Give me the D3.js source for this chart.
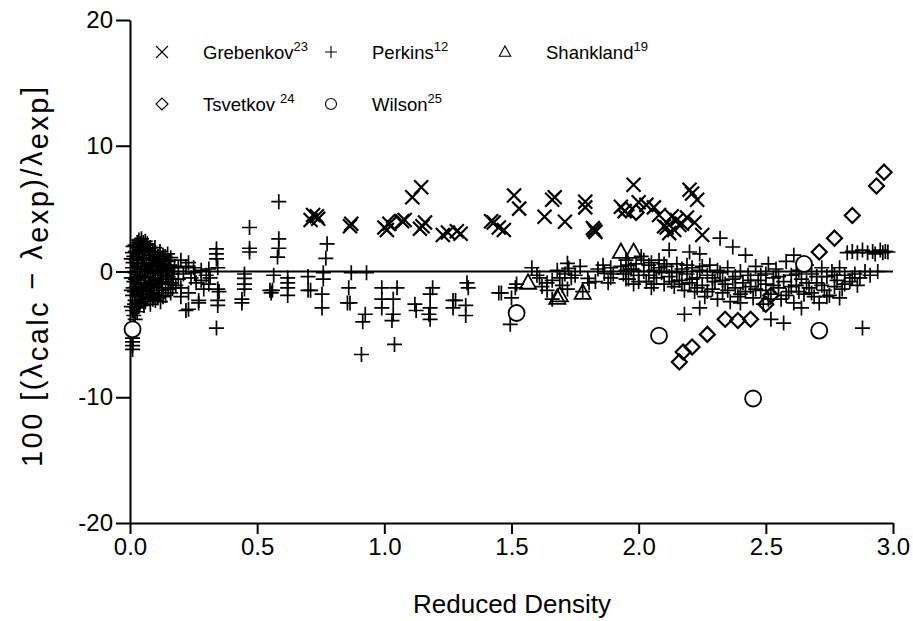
<!DOCTYPE html>
<html>
<head>
<meta charset="utf-8">
<script src="https://cdn.jsdelivr.net/npm/d3@7"></script>
<style>
  body { margin: 0; background: #fff; }
  text { font-family: "Liberation Sans", Arial, Helvetica, sans-serif; fill: #000; }
</style>
</head>
<body>
<svg width="913" height="621"></svg>
<script>
// data: [reduced density, 100*(calc-exp)/exp]
var grebenkov = [[0.71,4.1],[0.72,4.5],[0.735,4.4],[0.74,4.2],[0.865,3.6],[0.87,3.8],[1.0,3.5],[1.01,3.3],
  [1.02,3.8],[1.07,4.0],[1.08,4.1],[1.11,5.9],[1.145,6.7],[1.14,3.4],[1.15,3.6],[1.16,3.9],[1.23,2.9],
  [1.25,3.1],[1.285,3.2],[1.30,3.0],[1.42,4.0],[1.43,3.9],[1.45,3.5],[1.47,3.3],[1.51,6.05],[1.53,5.0],
  [1.63,4.35],[1.66,5.7],[1.67,5.9],[1.71,3.95],[1.79,5.55],[1.79,5.1],[1.82,3.45],[1.83,3.15],[1.825,3.3],
  [1.93,5.15],[1.945,4.8],[1.98,6.9],[2.0,5.5],[2.03,5.3],[2.06,5.1],[2.08,4.5],[2.1,3.6],[2.11,3.5],
  [2.12,3.05],[2.13,4.4],[2.15,4.1],[2.17,3.8],[2.2,6.5],[2.21,6.2],[2.23,5.7],[2.19,4.3],[2.22,3.9],
  [2.25,2.9],[2.14,3.3],[2.16,3.7]];

var perkins = [
  // dense group at low density
  [0.02,2.1],[0.03,1.9],[0.04,2.2],[0.05,2.0],[0.06,2.1],[0.07,1.8],[0.08,1.9],[0.09,1.6],[0.1,1.5],
  [0.11,1.2],[0.12,1.0],[0.13,1.3],[0.14,0.9],[0.15,0.8],[0.16,1.1],[0.035,2.5],[0.06,2.4],[0.045,2.6],
  [0.015,1.2],[0.025,0.9],[0.035,1.4],[0.045,0.6],[0.055,1.1],[0.065,0.7],[0.075,1.3],[0.085,0.5],
  [0.095,0.9],[0.105,0.4],[0.115,0.6],[0.125,0.2],[0.135,0.5],[0.145,0.1],[0.155,0.3],[0.165,-0.2],
  [0.175,0.4],[0.01,0.3],[0.02,-0.1],[0.03,0.4],[0.04,-0.3],[0.05,0.2],[0.06,-0.4],[0.07,0.1],[0.08,-0.2],
  [0.09,0.3],[0.1,-0.5],[0.11,-0.1],[0.12,-0.6],[0.13,-0.3],[0.14,-0.8],[0.15,-0.4],[0.16,-0.9],
  [0.17,-0.6],[0.18,-1.1],[0.015,-0.8],[0.025,-1.2],[0.035,-0.7],[0.045,-1.4],[0.055,-1.0],[0.065,-1.6],
  [0.075,-1.1],[0.085,-1.5],[0.095,-1.2],[0.105,-1.7],[0.115,-1.3],[0.125,-1.5],[0.14,-1.9],[0.15,-1.4],
  [0.01,-1.9],[0.02,-2.3],[0.03,-1.8],[0.04,-2.5],[0.05,-2.0],[0.06,-2.4],[0.07,-2.1],[0.08,-2.6],
  [0.09,-2.2],[0.12,-2.4],[0.005,-2.8],[0.01,-3.1],[0.015,-3.5],[0.02,-3.8],[0.025,-2.9],[0.005,1.0],
  [0.005,-0.5],[0.005,-1.5],[0.01,1.5],[0.01,-5.3],[0.01,-5.6],[0.01,-5.9],[0.01,-6.2],
  [0.012,2.0],[0.022,1.6],[0.028,2.3],[0.038,1.7],[0.048,1.5],[0.052,2.3],[0.058,1.7],[0.068,2.2],
  [0.078,1.6],[0.088,1.3],[0.098,1.9],[0.108,1.0],[0.118,1.6],[0.128,0.8],[0.138,1.2],[0.148,1.4],
  [0.012,0.7],[0.018,0.0],[0.028,-0.4],[0.032,0.9],[0.042,0.2],[0.048,1.0],[0.058,0.4],[0.062,-0.9],
  [0.072,-0.5],[0.078,0.6],[0.088,-0.8],[0.092,-0.1],[0.102,0.7],[0.108,-1.0],[0.118,0.1],[0.128,-0.9],
  [0.132,0.1],[0.142,-0.3],[0.152,-1.0],[0.158,0.5],[0.168,-1.3],[0.172,0.0],[0.012,-1.3],[0.018,-1.6],
  [0.022,-0.6],[0.032,-1.4],[0.038,-2.0],[0.042,-0.9],[0.052,-1.6],[0.062,-1.3],[0.068,-2.0],
  [0.078,-1.8],[0.082,-1.2],[0.092,-1.9],[0.098,-0.7],[0.11,-2.1],[0.13,-2.0],[0.16,-1.7],[0.018,-2.6],
  [0.028,-3.2],[0.035,-2.8],[0.045,-2.2],[0.055,-2.7],[0.1,-2.3],
  // 0.2 - 1.95
  [0.2,0.9],[0.23,0.7],[0.2,-1.3],[0.23,-1.7],[0.23,-3.0],[0.22,-3.1],[0.27,-2.3],[0.27,-2.5],[0.24,-0.5],
  [0.255,-0.1],[0.28,-0.7],[0.29,-1.4],[0.31,-1.0],[0.315,-0.5],[0.31,0.2],[0.34,1.8],[0.34,1.4],
  [0.34,1.0],[0.345,0.3],[0.345,-1.4],[0.35,-1.6],[0.345,-2.3],[0.345,-2.7],[0.34,-4.5],[0.19,0.3],
  [0.21,-0.2],[0.25,0.3],[0.26,-0.9],[0.3,-0.3],[0.28,0.1],[0.19,-0.6],[0.22,0.4],[0.2,-2.0],
  [0.47,3.5],[0.47,1.85],[0.47,1.55],[0.45,-0.2],[0.45,-0.55],[0.45,-1.0],[0.45,-1.4],[0.44,-2.2],[0.44,-2.5],
  [0.585,5.55],[0.585,2.6],[0.585,1.85],[0.58,1.15],[0.565,-0.3],[0.56,-1.5],[0.55,-1.5],[0.555,-1.7],
  [0.62,-0.5],[0.62,-0.9],[0.62,-1.3],[0.62,-1.9],[0.70,-0.4],[0.70,-1.5],[0.71,-1.5],[0.775,2.2],
  [0.77,1.05],[0.76,-0.1],[0.76,-0.6],[0.755,-1.8],[0.755,-2.9],[0.87,-0.1],[0.86,-1.3],[0.855,-2.5],
  [0.865,-2.5],[0.93,-0.1],[0.925,-3.4],[0.915,-4.0],[0.91,-6.6],[0.99,-1.3],[0.99,-2.2],[0.99,-2.9],
  [1.05,-1.3],[1.035,-2.2],[1.035,-3.4],[1.03,-3.9],[1.04,-5.8],[1.12,-2.6],[1.125,-3.1],[1.19,-1.3],
  [1.18,-1.8],[1.18,-2.9],[1.175,-3.4],[1.18,-3.8],[1.27,-2.3],[1.28,-2.3],[1.27,-2.9],[1.32,-2.7],
  [1.32,-3.5],[1.325,-0.9],[1.33,-1.3],[1.45,-1.7],[1.46,-1.7],[1.50,-2.1],[1.515,-1.3],[1.52,-1.0],
  [1.495,-4.2],[1.58,0.3],[1.60,-0.3],[1.61,-0.5],[1.64,-0.9],[1.64,-1.5],[1.66,-2.2],[1.68,0.1],
  [1.69,-0.5],[1.70,-1.1],[1.72,0.65],[1.725,0.25],[1.735,-0.5],[1.72,-1.4],[1.75,-0.3],[1.77,0.4],
  [1.78,-1.6],[1.80,-0.55],[1.805,-0.9],[1.83,-0.8],[1.84,0.2],[1.86,0.5],[1.865,-0.15],[1.88,-0.9],
  [1.89,-0.5],[1.90,-0.2],[1.89,0.3],[1.95,0.1],[1.95,-0.6],[1.62,-1.2],[1.66,-0.7],[1.71,-0.2],
  // band beyond 1.9
  [1.93,0.4],[1.94,-0.2],[1.95,0.9],[1.96,-0.6],[1.97,0.2],[1.98,-1.0],[1.99,0.6],[2.0,-0.3],[2.01,1.2],
  [2.02,0.0],[2.03,-0.8],[2.04,0.5],[2.05,-1.3],[2.05,0.7],[2.06,0.1],[2.07,-0.5],[2.08,0.9],[2.09,-0.1],
  [2.1,-1.0],[2.11,0.4],[2.12,1.7],[2.12,-0.4],[2.13,0.0],[2.14,-1.2],[2.15,0.6],[2.16,-0.7],[2.17,0.2],
  [2.18,-1.5],[2.18,-3.4],[2.19,-0.2],[2.2,1.55],[2.2,-0.9],[2.21,0.3],[2.22,-1.6],[2.23,-0.5],[2.24,1.4],
  [2.24,0.1],[2.24,-2.9],[2.25,-1.1],[2.26,-2.0],[2.27,-0.3],[2.28,0.5],[2.29,-1.4],[2.3,-0.8],[2.31,-2.2],
  [2.32,2.65],[2.32,-0.1],[2.33,-1.7],[2.34,-1.0],[2.35,0.3],[2.36,-2.4],[2.37,1.95],[2.37,-0.6],
  [2.38,-1.3],[2.39,-2.0],[2.4,-2.5],[2.4,0.0],[2.41,-0.9],[2.42,1.3],[2.42,-1.6],[2.43,-0.3],[2.44,-1.2],
  [2.45,-2.1],[2.46,0.4],[2.47,-0.7],[2.48,-1.5],[2.49,-2.6],[2.5,-0.2],[2.5,-1.0],[2.51,0.6],[2.52,-3.8],
  [2.52,-1.8],[2.53,-0.5],[2.54,0.2],[2.55,-1.3],[2.56,-2.2],[2.57,-4.1],[2.57,-0.8],[2.58,0.8],
  [2.59,-1.6],[2.6,-0.3],[2.61,1.3],[2.61,-2.5],[2.62,-1.1],[2.63,0.1],[2.64,-2.9],[2.64,-0.6],[2.65,-1.8],
  [2.66,0.5],[2.67,-1.3],[2.68,-0.2],[2.69,-2.0],[2.7,-0.9],[2.71,-2.5],[2.72,0.3],[2.73,-1.5],[2.74,-0.4],
  [2.75,-1.9],[2.76,0.0],[2.77,-1.2],[2.78,-0.7],[2.79,-2.1],[2.79,0.3],[2.8,-1.4],[2.81,-0.3],[2.82,1.5],
  [2.83,-0.8],[2.84,1.6],[2.85,-0.2],[2.86,-1.1],[2.86,1.5],[2.87,-0.5],[2.88,1.7],[2.88,-4.5],[2.89,0.0],
  [2.9,1.5],[2.91,-0.3],[2.92,1.6],[2.93,1.4],[2.94,0.0],[2.95,1.7],[2.96,1.5],[2.97,1.6],[2.98,1.55],
  [1.96,0.5],[1.98,0.1],[2.0,-0.8],[2.02,0.9],[2.04,-0.3],[2.06,-1.0],[2.08,0.3],[2.1,0.6],[2.13,-0.8],
  [2.15,-0.1],[2.17,-1.0],[2.19,0.5],[2.21,-0.6],[2.23,-1.3],[2.25,0.4],[2.27,-1.6],[2.29,-0.5],
  [2.31,0.1],[2.33,-0.7],[2.35,-1.5],[2.38,-0.4],[2.4,-1.8],[2.44,-0.7],[2.46,-1.4],[2.48,-0.3],
  [2.51,-2.2],[2.53,-1.1],[2.55,-0.4],[2.58,-1.9],[2.6,-1.2],[2.62,-0.2],[2.63,-1.6],[2.66,-0.9],
  [2.68,-1.7],[2.7,-0.4],[2.72,-1.1],[2.74,-2.0],[2.77,-0.3],[2.81,-1.0],[2.84,-0.5]];

var shankland = [[1.565,-0.9],[1.68,-2.1],[1.69,-1.9],[1.78,-1.7],[1.93,1.55],[1.98,1.55]];

var tsvetkov = [[1.04,3.9],[1.95,4.9],[1.99,4.7],[2.16,-7.2],[2.175,-6.4],[2.21,-6.0],[2.27,-5.0],
  [2.34,-3.8],[2.39,-3.9],[2.44,-3.8],[2.50,-2.6],[2.52,-1.9],[2.71,1.55],[2.77,2.65],[2.84,4.45],
  [2.935,6.8],[2.965,7.9]];

var wilson = [[0.01,-4.6],[1.52,-3.3],[2.08,-5.1],[2.45,-10.1],[2.65,0.6],[2.71,-4.7]];

var xTicks = [0, 0.5, 1, 1.5, 2, 2.5, 3];
var yTicks = [-20, -10, 0, 10, 20];

var legendNames = ["Grebenkov", "Perkins", "Shankland", "Tsvetkov ", "Wilson"];
var legendRefs = ["23", "12", "19", "24", "25"];
var legendKinds = ["cross", "plus", "tri", "diamond", "circle"];

var svg = d3.select("svg");
var x = d3.scaleLinear().domain([0, 3]).range([130, 893]);
var y = d3.scaleLinear().domain([-20, 20]).range([523, 20]);

// marker shapes, s = half size
function shape(kind, s) {
  if (kind == "plus") return "M" + (-s) + ",0H" + s + "M0," + (-s) + "V" + s;
  if (kind == "cross") return "M" + (-s) + "," + (-s) + "L" + s + "," + s + "M" + (-s) + "," + s + "L" + s + "," + (-s);
  if (kind == "diamond") return "M0," + (-s) + "L" + s + ",0L0," + s + "L" + (-s) + ",0Z";
  if (kind == "tri") return "M0," + (-s) + "L" + (s * 0.95) + "," + (s * 0.7) + "L" + (-s * 0.95) + "," + (s * 0.7) + "Z";
  return d3.arc()({innerRadius: 0, outerRadius: s, startAngle: 0, endAngle: 2 * Math.PI});
}

// axes
var yAxis = svg.append("g")
  .attr("transform", "translate(130,0)")
  .call(d3.axisLeft(y).tickValues(yTicks).tickFormat(function (d) { return String(d); })
    .tickSize(14).tickSizeOuter(0).tickPadding(3));
var xAxis = svg.append("g")
  .attr("transform", "translate(0,523)")
  .call(d3.axisBottom(x).tickValues(xTicks).tickFormat(d3.format(".1f")).tickSize(11).tickSizeOuter(0).tickPadding(4));
[yAxis, xAxis].forEach(function (a) {
  a.selectAll("path, line").attr("stroke", "#000").attr("stroke-width", 2);
  a.selectAll("text").style("font-size", "24px").attr("fill", "#000");
});

// zero line
svg.append("line")
  .attr("x1", x(0)).attr("x2", x(3))
  .attr("y1", y(0)).attr("y2", y(0))
  .attr("stroke", "#000").attr("stroke-width", 2);

function drawSeries(data, kind, s, sw, fill) {
  svg.append("g").selectAll("path").data(data).enter().append("path")
    .attr("transform", function (d) { return "translate(" + x(d[0]) + "," + y(d[1]) + ")"; })
    .attr("d", shape(kind, s))
    .attr("fill", fill)
    .attr("stroke", "#000")
    .attr("stroke-width", sw);
}

drawSeries(perkins, "plus", 7.5, 1.7, "none");
drawSeries(grebenkov, "cross", 7, 2.2, "none");
drawSeries(shankland, "tri", 8.5, 1.8, "none");
drawSeries(tsvetkov, "diamond", 7.5, 2.2, "none");
drawSeries(wilson, "circle", 8, 1.8, "white");

// legend
var legendX = [162, 331, 505];
var legendY = [52, 104];
legendNames.forEach(function (name, i) {
  var lx = legendX[i % 3], ly = legendY[Math.floor(i / 3)];
  svg.append("path")
    .attr("transform", "translate(" + lx + "," + ly + ")")
    .attr("d", shape(legendKinds[i], legendKinds[i] == "circle" ? 5.5 : 6))
    .attr("fill", "none").attr("stroke", "#000").attr("stroke-width", 1.1);
  var t = svg.append("text").attr("x", lx + 41).attr("y", ly + 7).style("font-size", "18.5px");
  t.append("tspan").text(name);
  t.append("tspan").attr("dy", -8).style("font-size", "13px").text(legendRefs[i]);
});

// axis titles
svg.append("text")
  .attr("x", 512).attr("y", 613)
  .attr("text-anchor", "middle")
  .style("font-size", "26px")
  .text("Reduced Density");

var yt = svg.append("text")
  .attr("transform", "translate(42,277) rotate(-90)")
  .attr("text-anchor", "middle")
  .attr("textLength", 380)
  .attr("lengthAdjust", "spacing")
  .style("font-size", "29px");
yt.append("tspan").text("100 [(λ");
yt.append("tspan").attr("dy", 6).text("calc");
yt.append("tspan").attr("dy", -6).text(" − λ");
yt.append("tspan").attr("dy", 6).text("exp");
yt.append("tspan").attr("dy", -6).text(")/λ");
yt.append("tspan").attr("dy", 6).text("exp");
yt.append("tspan").attr("dy", -6).text("]");
</script>
</body>
</html>
